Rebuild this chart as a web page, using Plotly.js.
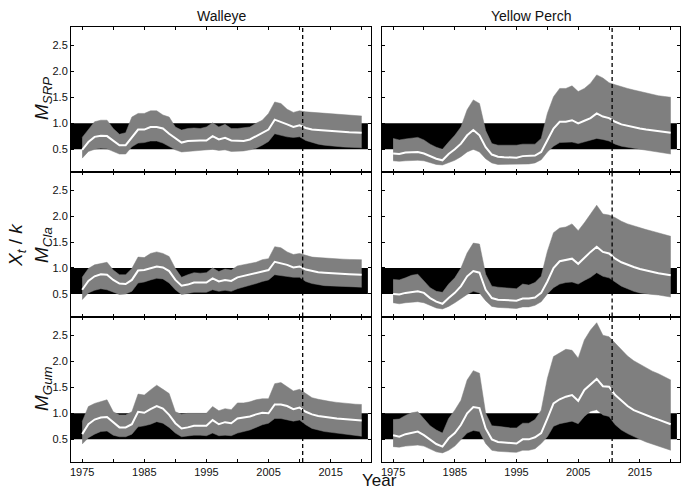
<!DOCTYPE html>
<html>
<head>
<meta charset="utf-8">
<script src="https://cdn.plot.ly/plotly-3.0.1.min.js"></script>
<style>html,body{margin:0;padding:0;background:#fff;}#chart{width:681px;height:487px;}</style>
</head>
<body>
<div id="chart"></div>
<script>
// ---- data ----
const years = [1975,1976,1977,1978,1979,1980,1981,1982,1983,1984,1985,1986,1987,1988,1989,
  1990,1991,1992,1993,1994,1995,1996,1997,1998,1999,2000,2001,2002,2003,2004,2005,2006,2007,
  2008,2009,2010,2011,2012,2013,2014,2015,2016,2017,2018,2019,2020];

const speciesTitles = ['Walleye', 'Yellow Perch'];
const modelLabels = ['SRP', 'Cla', 'Gum'];
const forecastStart = 2010.5;
const refLow = 0.5, refHigh = 1.0;

// Walleye, M_SRP
const wSRP_med = [0.49,0.64,0.74,0.76,0.755, 0.67,0.58,0.58,0.74,0.88, 0.88,0.93,0.93,0.90,0.80,
  0.71,0.63,0.66,0.67,0.67, 0.67,0.755,0.69,0.72,0.67, 0.66,0.66,0.69,0.755,0.82, 0.88,1.07,1.03,0.98,0.93,
  0.96,0.91,0.88,0.87,0.86, 0.85,0.84,0.835,0.83,0.825, 0.82];
const wSRP_hi = [0.73,0.87,1.03,1.06,1.06, 0.90,0.79,0.82,1.12,1.19, 1.19,1.24,1.24,1.16,1.12,
  0.93,0.87,0.90,0.91,0.90, 0.93,1.01,0.93,0.98,0.90, 0.90,0.91,0.93,1.00,1.06, 1.19,1.41,1.38,1.27,1.21,
  1.24,1.22,1.21,1.20,1.19, 1.18,1.17,1.165,1.16,1.15, 1.14];
const wSRP_lo = [0.33,0.46,0.50,0.52,0.51, 0.46,0.41,0.41,0.55,0.62, 0.63,0.66,0.66,0.62,0.55,
  0.49,0.45,0.46,0.47,0.47, 0.48,0.50,0.48,0.49,0.46, 0.46,0.47,0.49,0.52,0.58, 0.65,0.80,0.77,0.74,0.73,
  0.74,0.67,0.63,0.60,0.58, 0.565,0.55,0.545,0.54,0.535, 0.53];

// Yellow Perch, M_SRP
const ySRP_med = [0.42,0.41,0.44,0.45,0.45, 0.42,0.37,0.32,0.29,0.41, 0.50,0.61,0.77,0.87,0.77,
  0.54,0.40,0.36,0.35,0.34, 0.34,0.37,0.37,0.38,0.45, 0.68,0.90,1.03,1.03,1.06, 1.00,1.05,1.10,1.19,1.13,
  1.10,1.03,0.98,0.95,0.92, 0.90,0.88,0.865,0.85,0.835, 0.82];
const ySRP_hi = [0.71,0.68,0.70,0.71,0.73, 0.68,0.60,0.54,0.50,0.64, 0.77,0.93,1.26,1.45,1.38,
  0.86,0.61,0.58,0.58,0.58, 0.58,0.60,0.60,0.60,0.71, 1.19,1.51,1.67,1.67,1.72, 1.61,1.67,1.77,1.93,1.87,
  1.78,1.74,1.70,1.67,1.64, 1.61,1.58,1.555,1.53,1.515, 1.50];
const ySRP_lo = [0.28,0.27,0.28,0.29,0.29, 0.28,0.24,0.21,0.20,0.24, 0.29,0.36,0.45,0.50,0.45,
  0.32,0.24,0.21,0.21,0.21, 0.21,0.22,0.22,0.24,0.30, 0.45,0.56,0.63,0.63,0.64, 0.61,0.64,0.68,0.71,0.69,
  0.66,0.60,0.56,0.54,0.52, 0.505,0.49,0.47,0.45,0.43, 0.41];

// Walleye, M_Cla
const wCla_med = [0.58,0.75,0.84,0.88,0.87, 0.77,0.70,0.69,0.77,0.95, 0.96,1.00,1.03,1.01,0.94,
  0.77,0.66,0.68,0.72,0.72, 0.72,0.80,0.74,0.77,0.75, 0.82,0.85,0.88,0.91,0.94, 0.96,1.12,1.09,1.06,1.01,
  1.03,0.97,0.94,0.92,0.91, 0.90,0.89,0.885,0.88,0.875, 0.87];
const wCla_hi = [0.82,0.99,1.06,1.09,1.11, 0.96,0.87,0.87,0.99,1.21, 1.20,1.28,1.31,1.28,1.22,
  0.99,0.82,0.87,0.91,0.90, 0.91,1.00,0.93,0.98,0.96, 1.04,1.06,1.08,1.11,1.16, 1.18,1.41,1.39,1.31,1.26,
  1.28,1.24,1.21,1.20,1.19, 1.18,1.17,1.17,1.165,1.16, 1.16];
const wCla_lo = [0.39,0.52,0.57,0.60,0.58, 0.54,0.49,0.50,0.55,0.71, 0.73,0.77,0.80,0.79,0.71,
  0.58,0.49,0.51,0.53,0.53, 0.53,0.58,0.55,0.57,0.55, 0.60,0.63,0.66,0.70,0.74, 0.77,0.87,0.85,0.84,0.82,
  0.82,0.74,0.70,0.68,0.66, 0.655,0.65,0.645,0.64,0.635, 0.63];

// Yellow Perch, M_Cla
const yCla_med = [0.50,0.49,0.52,0.54,0.55, 0.52,0.42,0.35,0.31,0.42, 0.52,0.65,0.84,0.94,0.91,
  0.58,0.42,0.39,0.38,0.37, 0.37,0.41,0.41,0.43,0.52, 0.74,1.00,1.13,1.15,1.18, 1.08,1.20,1.31,1.41,1.31,
  1.28,1.18,1.11,1.06,1.02, 0.98,0.95,0.925,0.90,0.88, 0.86];
const yCla_hi = [0.78,0.77,0.81,0.86,0.88, 0.76,0.62,0.55,0.53,0.69, 0.81,1.00,1.29,1.48,1.46,
  0.88,0.65,0.63,0.62,0.60, 0.60,0.69,0.67,0.72,0.84, 1.32,1.68,1.77,1.79,1.85, 1.72,1.87,2.03,2.21,2.04,
  2.02,1.97,1.90,1.85,1.81, 1.77,1.74,1.71,1.68,1.645, 1.61];
const yCla_lo = [0.33,0.31,0.33,0.34,0.35, 0.33,0.28,0.23,0.21,0.26, 0.33,0.41,0.49,0.55,0.52,
  0.37,0.26,0.24,0.23,0.23, 0.22,0.25,0.25,0.28,0.35, 0.50,0.62,0.69,0.72,0.73, 0.69,0.76,0.82,0.91,0.84,
  0.81,0.73,0.65,0.60,0.55, 0.52,0.50,0.49,0.48,0.46, 0.44];

// Walleye, M_Gum
const wGum_med = [0.60,0.79,0.88,0.92,0.93, 0.83,0.73,0.73,0.79,1.03, 1.01,1.08,1.14,1.09,0.97,
  0.81,0.71,0.73,0.76,0.76, 0.76,0.87,0.79,0.83,0.81, 0.90,0.92,0.94,0.98,1.01, 1.00,1.17,1.17,1.14,1.08,
  1.11,1.03,0.98,0.95,0.93, 0.915,0.90,0.89,0.88,0.87, 0.86];
const wGum_hi = [0.84,1.13,1.19,1.22,1.26, 1.03,0.97,0.97,1.03,1.37, 1.35,1.45,1.54,1.46,1.38,
  1.03,0.98,1.00,1.00,1.00, 1.00,1.13,1.05,1.09,1.07, 1.20,1.20,1.22,1.26,1.28, 1.28,1.57,1.59,1.51,1.43,
  1.46,1.38,1.30,1.27,1.24, 1.225,1.21,1.195,1.18,1.175, 1.17];
const wGum_lo = [0.41,0.53,0.60,0.65,0.66, 0.58,0.55,0.55,0.60,0.74, 0.76,0.79,0.84,0.81,0.73,
  0.62,0.55,0.57,0.58,0.58, 0.57,0.62,0.57,0.58,0.57, 0.62,0.65,0.68,0.73,0.78, 0.81,0.90,0.90,0.88,0.85,
  0.87,0.78,0.71,0.68,0.65, 0.635,0.62,0.605,0.59,0.575, 0.56];

// Yellow Perch, M_Gum
const yGum_med = [0.58,0.55,0.60,0.62,0.65, 0.58,0.49,0.41,0.36,0.52, 0.62,0.78,1.00,1.12,1.10,
  0.71,0.50,0.45,0.44,0.43, 0.42,0.50,0.50,0.54,0.62, 0.90,1.19,1.27,1.32,1.35, 1.24,1.45,1.56,1.66,1.52,
  1.51,1.35,1.24,1.14,1.06, 1.01,0.97,0.92,0.88,0.83, 0.79];
const yGum_hi = [0.88,0.89,0.96,1.01,1.03, 0.90,0.76,0.68,0.62,0.90, 1.06,1.25,1.64,1.82,1.77,
  1.00,0.76,0.75,0.73,0.72, 0.72,0.81,0.81,0.88,1.06, 1.67,2.09,2.16,2.23,2.21, 2.06,2.41,2.60,2.74,2.50,
  2.47,2.34,2.21,2.10,2.01, 1.94,1.87,1.81,1.76,1.70, 1.64];
const yGum_lo = [0.36,0.35,0.37,0.38,0.39, 0.37,0.31,0.26,0.24,0.29, 0.37,0.49,0.62,0.67,0.65,
  0.42,0.29,0.27,0.26,0.26, 0.25,0.29,0.29,0.32,0.42, 0.55,0.75,0.80,0.83,0.85, 0.80,0.94,1.04,1.07,0.97,
  0.94,0.78,0.68,0.61,0.55, 0.50,0.45,0.41,0.37,0.33, 0.29];

const xTickVals = [1975,1985,1995,2005,2015];
const xTickText = ['1975','1985','1995','2005','2015'];
const xMinorTickVals = [1980,1990,2000,2010,2020];
const yTickVals = [0.5,1.0,1.5,2.0,2.5];
const yTickText = ['0.5','1.0','1.5','2.0','2.5'];

// ---- build ----
const W = 681, H = 487;
const panels = [
  {lo: wSRP_lo, hi: wSRP_hi, med: wSRP_med},
  {lo: ySRP_lo, hi: ySRP_hi, med: ySRP_med},
  {lo: wCla_lo, hi: wCla_hi, med: wCla_med},
  {lo: yCla_lo, hi: yCla_hi, med: yCla_med},
  {lo: wGum_lo, hi: wGum_hi, med: wGum_med},
  {lo: yGum_lo, hi: yGum_hi, med: yGum_med}
];
const colDom = [[71/W, 371/W], [382/W, 680/W]];
const rowDom = [[1-172/H, 1-27/H], [1-316.5/H, 1-172/H], [1-462/H, 1-317/H]];
const FONT = '"Liberation Sans", Arial, sans-serif';

const traces = [];
const layout = {
  width: W, height: H,
  margin: {l: 0, r: 0, t: 0, b: 0},
  paper_bgcolor: '#fff', plot_bgcolor: '#fff',
  showlegend: false,
  font: {family: FONT, color: '#000', size: 11},
  shapes: [], annotations: []
};

panels.forEach((p, i) => {
  const n = i + 1;
  const xa = n === 1 ? 'x' : 'x' + n;
  const ya = n === 1 ? 'y' : 'y' + n;
  const row = Math.floor(i / 2), col = i % 2;
  traces.push({x: years, y: p.lo, xaxis: xa, yaxis: ya, type: 'scatter', mode: 'lines',
    line: {color: '#7f7f7f', width: 0.5}, hoverinfo: 'skip'});
  traces.push({x: years, y: p.hi, xaxis: xa, yaxis: ya, type: 'scatter', mode: 'lines',
    fill: 'tonexty', fillcolor: '#7f7f7f', line: {color: '#7f7f7f', width: 0.5}, hoverinfo: 'skip'});
  traces.push({x: years, y: p.med, xaxis: xa, yaxis: ya, type: 'scatter', mode: 'lines',
    line: {color: '#ffffff', width: 2}, hoverinfo: 'skip'});

  const axCommon = {showgrid: false, zeroline: false, showline: true, linecolor: '#000', linewidth: 1,
    mirror: 'ticks', ticks: 'inside', ticklen: 3, tickwidth: 1, tickcolor: '#000'};
  const xax = Object.assign({}, axCommon, {
    domain: colDom[col], anchor: ya, range: [1973.2, 2021.5],
    tickmode: 'array', tickvals: xTickVals, showticklabels: row === 2,
    minor: {tickmode: 'array', tickvals: xMinorTickVals, ticks: 'inside', ticklen: 3, tickwidth: 1, tickcolor: '#000', showgrid: false}
  });
  if (row === 2) { xax.ticktext = xTickText; xax.tickfont = {size: 11, family: FONT, color: '#111'}; }
  layout['xaxis' + (n === 1 ? '' : n)] = xax;
  const yax = Object.assign({}, axCommon, {
    domain: rowDom[row], anchor: xa, range: [0.065, 2.85],
    tickmode: 'array', tickvals: yTickVals, showticklabels: col === 0
  });
  if (col === 0) { yax.ticktext = yTickText; yax.tickfont = {size: 11, family: FONT, color: '#111'}; }
  layout['yaxis' + (n === 1 ? '' : n)] = yax;
  layout.shapes.push({type: 'rect', xref: xa, yref: ya, x0: 1973, x1: 2021, y0: refLow, y1: refHigh,
    fillcolor: '#000', line: {width: 0}, layer: 'below'});
  layout.shapes.push({type: 'line', xref: xa, yref: ya + ' domain', x0: forecastStart, x1: forecastStart,
    y0: 0, y1: 1, line: {color: '#000', width: 1.3, dash: '4px,3px'}, layer: 'above'});
});

speciesTitles.forEach((t, c) => {
  layout.annotations.push({text: t, xref: 'paper', yref: 'paper',
    x: (colDom[c][0] + colDom[c][1]) / 2, y: 1 - 16/H, showarrow: false,
    xanchor: 'center', yanchor: 'middle', font: {size: 14, family: FONT, color: '#111'}});
});
const rowCentersPx = [99, 245, 389];
modelLabels.forEach((m, r) => {
  layout.annotations.push({text: '<i>M</i><sub><i>' + m + '</i></sub>', xref: 'paper', yref: 'paper',
    x: 43/W, y: 1 - rowCentersPx[r]/H, textangle: -90, showarrow: false,
    xanchor: 'center', yanchor: 'middle', font: {size: 19, family: FONT, color: '#111'}});
});
layout.annotations.push({text: '<i>X<sub>t</sub></i> / <i>k</i>', xref: 'paper', yref: 'paper',
  x: 17/W, y: 1 - 245/H, textangle: -90, showarrow: false, xanchor: 'center', yanchor: 'middle',
  font: {size: 19, family: FONT, color: '#111'}});
layout.annotations.push({text: 'Year', xref: 'paper', yref: 'paper', x: 379/W, y: 1 - 480/H,
  showarrow: false, xanchor: 'center', yanchor: 'middle', font: {size: 17, family: FONT, color: '#111'}});

Plotly.newPlot('chart', traces, layout, {staticPlot: true, displayModeBar: false});
</script>
</body>
</html>
